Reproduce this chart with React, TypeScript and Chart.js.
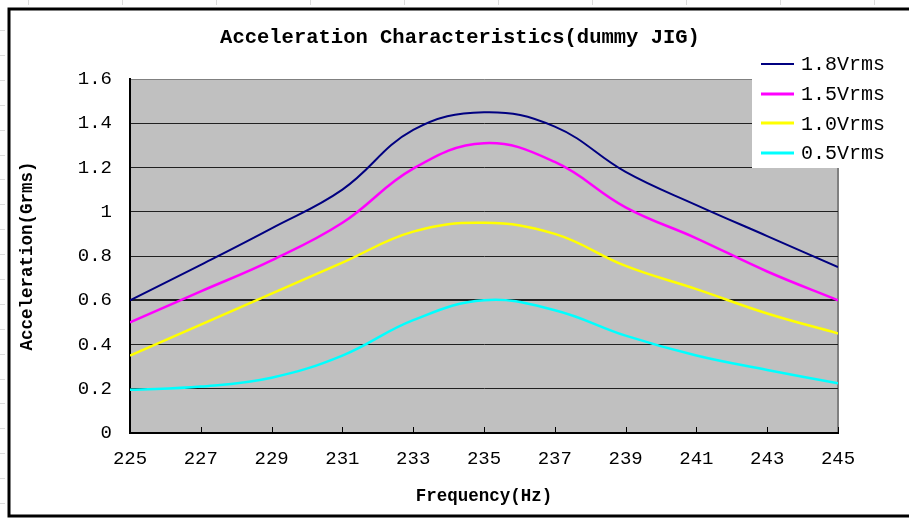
import { useEffect, useRef } from "react";
import { Chart, registerables } from "chart.js";

Chart.register(...registerables);

const frequencyHz = [225, 227, 229, 231, 233, 235, 237, 239, 241, 243, 245];
const accel18Vrms = [0.6, 0.76, 0.925, 1.1, 1.37, 1.45, 1.385, 1.18, 1.03, 0.89, 0.75];
const accel15Vrms = [0.5, 0.64, 0.78, 0.95, 1.195, 1.31, 1.225, 1.02, 0.88, 0.73, 0.6];
const accel10Vrms = [0.35, 0.49, 0.63, 0.77, 0.91, 0.95, 0.9, 0.755, 0.65, 0.54, 0.45];
const accel05Vrms = [0.195, 0.21, 0.25, 0.35, 0.51, 0.6, 0.555, 0.44, 0.35, 0.285, 0.225];
const seriesLabels = ["1.8Vrms", "1.5Vrms", "1.0Vrms", "0.5Vrms"];
const seriesColors = ["#000080", "#FF00FF", "#FFFF00", "#00FFFF"];
const seriesWidths = [2, 2.5, 2.5, 2.5];
const chartTitle = "Acceleration Characteristics(dummy JIG)";
const xTitle = "Frequency(Hz)";
const yTitle = "Acceleration(Grms)";
const yMin = 0;
const yMax = 1.6;
const yStep = 0.2;

const MONO = "'Liberation Mono', 'DejaVu Sans Mono', monospace";

const decorPlugin = {
  id: "decor",
  beforeDraw(chart: any) {
    const { ctx, chartArea: a, width, height } = chart;
    ctx.save();
    ctx.fillStyle = "#ffffff";
    ctx.fillRect(0, 0, width, height);
    // faint ruler ticks outside the frame
    ctx.strokeStyle = "#dcdcdc";
    ctx.lineWidth = 1;
    ctx.beginPath();
    for (let x = 28; x < width; x += 94) {
      ctx.moveTo(x + 0.5, 0);
      ctx.lineTo(x + 0.5, 5);
    }
    for (let y = 30; y < height; y += 24.9) {
      ctx.moveTo(0, Math.round(y) + 0.5);
      ctx.lineTo(5, Math.round(y) + 0.5);
    }
    ctx.stroke();
    // outer frame
    ctx.strokeStyle = "#000000";
    ctx.lineWidth = 3;
    ctx.beginPath();
    ctx.moveTo(width + 5, 9);
    ctx.lineTo(9, 9);
    ctx.lineTo(9, 516);
    ctx.lineTo(width + 5, 516);
    ctx.stroke();
    // plot area
    ctx.fillStyle = "#C0C0C0";
    ctx.fillRect(a.left, a.top, a.right - a.left, a.bottom - a.top);
    ctx.strokeStyle = "#808080";
    ctx.lineWidth = 2;
    ctx.beginPath();
    ctx.moveTo(a.right, a.top);
    ctx.lineTo(a.right, a.bottom);
    ctx.stroke();
    ctx.restore();
  },
  afterDraw(chart: any) {
    const { ctx, chartArea: a } = chart;
    const xs = chart.scales.x;
    ctx.save();
    // inside tick marks on the x axis
    ctx.strokeStyle = "#000000";
    ctx.lineWidth = 1;
    ctx.beginPath();
    xs.ticks.forEach((t: any) => {
      const px = Math.round(xs.getPixelForValue(t.value)) + 0.5;
      ctx.moveTo(px, a.bottom);
      ctx.lineTo(px, a.bottom - 6);
    });
    ctx.stroke();
    // title
    ctx.fillStyle = "#000000";
    ctx.font = `bold 20.5px ${MONO}`;
    ctx.textAlign = "center";
    ctx.textBaseline = "middle";
    ctx.fillText(chartTitle, 460, 38);
    // legend
    ctx.fillStyle = "#ffffff";
    ctx.fillRect(752, 48, 150, 120);
    ctx.font = `20px ${MONO}`;
    ctx.textAlign = "left";
    chart.data.datasets.forEach((ds: any, i: number) => {
      const y = 64 + i * 29.7;
      ctx.strokeStyle = ds.borderColor;
      ctx.lineWidth = i === 0 ? 2 : 3;
      ctx.beginPath();
      ctx.moveTo(761, Math.round(y));
      ctx.lineTo(794, Math.round(y));
      ctx.stroke();
      ctx.fillStyle = "#000000";
      ctx.fillText(ds.label, 801, y + 1);
    });
    ctx.restore();
  },
};

export default function App() {
  const ref = useRef<HTMLCanvasElement | null>(null);

  useEffect(() => {
    if (!ref.current) return;
    const series = [accel18Vrms, accel15Vrms, accel10Vrms, accel05Vrms];
    const chart = new Chart(ref.current, {
      type: "line",
      data: {
        datasets: series.map((vals, i) => ({
          label: seriesLabels[i],
          data: vals.map((v, j) => ({ x: frequencyHz[j], y: v })),
          borderColor: seriesColors[i],
          backgroundColor: seriesColors[i],
          borderWidth: seriesWidths[i],
          pointRadius: 0,
          tension: 0.4,
          fill: false,
        })),
      },
      options: {
        animation: false,
        responsive: false,
        layout: { padding: { left: 0, right: 71, top: 79, bottom: 0 } },
        plugins: {
          legend: { display: false },
          title: { display: false },
          tooltip: { enabled: false },
        },
        scales: {
          x: {
            type: "linear",
            min: frequencyHz[0],
            max: frequencyHz[frequencyHz.length - 1],
            afterBuildTicks: (s: any) => {
              s.ticks = frequencyHz.map((v) => ({ value: v }));
            },
            afterFit: (s: any) => {
              s.height = 86;
            },
            grid: { display: false, drawTicks: false },
            border: { display: true, color: "#000000", width: 2 },
            ticks: {
              padding: 15,
              color: "#000000",
              font: { family: MONO, size: 19 },
              maxRotation: 0,
              autoSkip: false,
              callback: (v: any) => String(v),
            },
            title: {
              display: true,
              text: xTitle,
              color: "#000000",
              font: { family: MONO, size: 17.5, weight: "bold" },
              padding: { top: 0, bottom: 12 },
            },
          },
          y: {
            min: yMin,
            max: yMax,
            afterFit: (s: any) => {
              s.width = 130;
            },
            grid: {
              drawTicks: false,
              color: (c: any) =>
                c.tick && Math.abs(c.tick.value - yMax) < 1e-6 ? "#808080" : "#202020",
              lineWidth: (c: any) =>
                c.tick && Math.abs(c.tick.value - 0.6) < 1e-6 ? 2 : 1,
            },
            border: { display: true, color: "#000000", width: 2 },
            ticks: {
              stepSize: yStep,
              padding: 18,
              color: "#000000",
              font: { family: MONO, size: 19 },
              callback: (v: any) => String(Number(Number(v).toFixed(1))),
            },
            title: {
              display: true,
              text: yTitle,
              color: "#000000",
              font: { family: MONO, size: 17.5, weight: "bold" },
              padding: { top: 17, bottom: 0 },
            },
          },
        },
      },
      plugins: [decorPlugin],
    } as any);
    return () => chart.destroy();
  }, []);

  return (
    <div style={{ position: "fixed", left: 0, top: 0, width: 909, height: 519 }}>
      <canvas ref={ref} width={909} height={519} style={{ width: 909, height: 519 }} />
    </div>
  );
}
